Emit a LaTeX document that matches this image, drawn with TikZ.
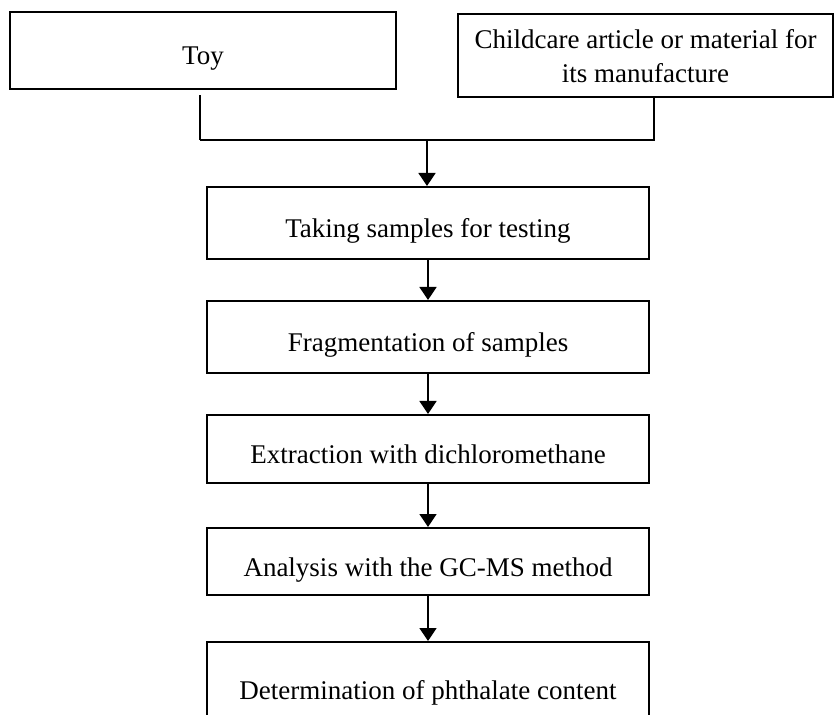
\documentclass[tikz,border=0pt]{standalone}
\usepackage{fontspec}
\setmainfont{Liberation Serif}
\usetikzlibrary{arrows.meta}

\tikzset{
	stepbox/.style={draw, line width=1pt, minimum width=221pt, inner sep=0pt,
		text height=18pt, text depth=3pt, font=\fontsize{13.5pt}{16.5pt}\selectfont},
	flow/.style={line width=0.75pt, -{Triangle[width=8.5pt, length=6.5pt]}}
}

\begin{document}
\begin{tikzpicture}[x=0.5pt, y=-0.5pt]
	\useasboundingbox (0,0) rectangle (834,715);
	\node[stepbox, minimum width=193pt, minimum height=38.5pt, text height=17pt] (toy) at (203,50.5) {Toy};
	\node[draw, line width=1pt, minimum width=187.5pt, minimum height=41.5pt, inner sep=0pt,
		align=center, font=\fontsize{13.5pt}{17pt}\selectfont] (child) at (645.5,56)
		{Childcare article or material for\\its manufacture};
	\node[stepbox, minimum height=36pt] (take) at (428,223) {Taking samples for testing};
	\node[stepbox, minimum height=36pt] (frag) at (428,337) {Fragmentation of samples};
	\node[stepbox, minimum height=34pt] (extr) at (428,449) {Extraction with dichloromethane};
	\node[stepbox, minimum height=33.5pt] (anal) at (428,561.5) {Analysis with the GC-MS method};
	\node[stepbox, minimum height=42pt] (det) at (428,684) {Determination of phthalate content};
	\coordinate (jl) at (200,140);
	\coordinate (jm) at (427,140);
	\coordinate (jr) at (654,140);
	\draw[line width=0.75pt, shorten >=2.5pt] (jl) -- (toy.south -| jl);
	\draw[line width=0.75pt] (jl) -- (jr) -- (child.south -| jr);
	\draw[flow] (jm) -- (take.north -| jm);
	\draw[flow] (take) -- (frag);
	\draw[flow] (frag) -- (extr);
	\draw[flow] (extr) -- (anal);
	\draw[flow] (anal) -- (det);
\end{tikzpicture}
\end{document}
